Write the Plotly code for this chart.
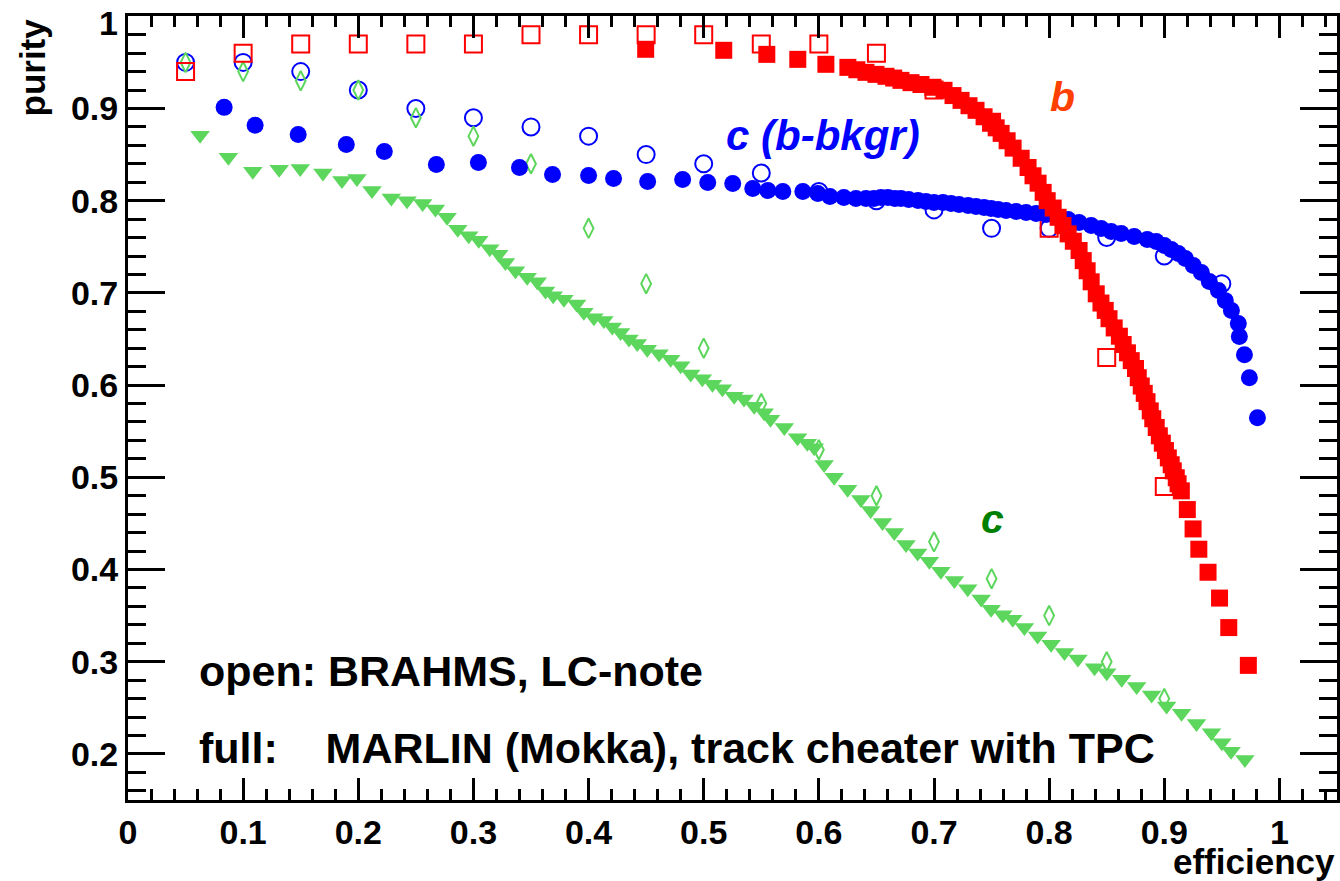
import plotly.graph_objects as go

# ---------------- data ----------------
# BRAHMS (open markers)
x_open = [0.05, 0.10, 0.15, 0.20, 0.25, 0.30, 0.35, 0.40, 0.45, 0.50, 0.55, 0.60,
          0.65, 0.70, 0.75, 0.80, 0.85, 0.90]
b_open_y = [0.94, 0.96, 0.97, 0.97, 0.97, 0.97, 0.98, 0.98, 0.98, 0.98, 0.97, 0.97,
            0.96, 0.92, 0.885, 0.77, 0.63, 0.49]
c_open_y = [0.95, 0.94, 0.93, 0.92, 0.89, 0.87, 0.84, 0.77, 0.71, 0.64, 0.58, 0.53,
            0.48, 0.43, 0.39, 0.35, 0.30, 0.26]
cb_open_x = [0.05, 0.10, 0.15, 0.20, 0.25, 0.30, 0.35, 0.40, 0.45, 0.50, 0.55, 0.60,
             0.65, 0.70, 0.75, 0.80, 0.85, 0.90, 0.95]
cb_open_y = [0.95, 0.95, 0.94, 0.92, 0.90, 0.89, 0.88, 0.87, 0.85, 0.84, 0.83, 0.81,
             0.80, 0.79, 0.77, 0.77, 0.76, 0.74, 0.71]

# MARLIN (full markers)
b_full_x = [0.4496, 0.5174, 0.5548, 0.5817, 0.6061, 0.6252, 0.633, 0.6409, 0.6496, 0.6583,
            0.665, 0.6713, 0.680, 0.6887, 0.699, 0.7087, 0.7165, 0.7235, 0.7304, 0.7365,
            0.7435, 0.7496, 0.754, 0.7583, 0.7635, 0.7687, 0.7757, 0.7817, 0.786, 0.7904,
            0.7948, 0.7983, 0.8035, 0.8078, 0.812, 0.8165, 0.821, 0.826, 0.8296, 0.833,
            0.8365, 0.8409, 0.845, 0.8487, 0.852, 0.8565, 0.861, 0.8643, 0.868, 0.8713,
            0.875, 0.8774, 0.880, 0.8826, 0.885, 0.8878, 0.890, 0.893, 0.8957, 0.8983,
            0.901, 0.9035, 0.906, 0.9078, 0.9104, 0.912, 0.9148, 0.920, 0.925, 0.930,
            0.938, 0.948, 0.956, 0.973]
b_full_y = [0.9642, 0.9631, 0.9587, 0.9533, 0.9479, 0.9446, 0.942, 0.9392, 0.937, 0.9349,
            0.933, 0.9305, 0.928, 0.926, 0.923, 0.9197, 0.914, 0.9088, 0.903, 0.898,
            0.891, 0.885, 0.879, 0.873, 0.865, 0.857, 0.846, 0.836, 0.827, 0.819,
            0.809, 0.800, 0.792, 0.782, 0.773, 0.764, 0.756, 0.746, 0.735, 0.724,
            0.712, 0.699, 0.689, 0.681, 0.672, 0.662, 0.653, 0.644, 0.635, 0.6265,
            0.618, 0.608, 0.599, 0.591, 0.582, 0.572, 0.5635, 0.554, 0.545, 0.537,
            0.529, 0.521, 0.5136, 0.507, 0.4995, 0.493, 0.4853, 0.465, 0.444, 0.422,
            0.397, 0.369, 0.337, 0.296]

cb_full_x = [0.0835, 0.1104, 0.1478, 0.1896, 0.2226, 0.2678, 0.3043, 0.340, 0.3687, 0.400,
             0.4217, 0.4513, 0.4817, 0.5035, 0.5252, 0.5426, 0.5557, 0.5687, 0.5861, 0.5991,
             0.6096, 0.6217, 0.6322, 0.6409, 0.6478, 0.6539, 0.660, 0.666, 0.6713, 0.678,
             0.6861, 0.693, 0.700, 0.7078, 0.7148, 0.7217, 0.7296, 0.7365, 0.7435, 0.7496,
             0.7557, 0.7626, 0.7713, 0.780, 0.7887, 0.7974, 0.8061, 0.8165, 0.826, 0.8365,
             0.8452, 0.8539, 0.8626, 0.8739, 0.8852, 0.893, 0.900, 0.9061, 0.9122, 0.9183,
             0.9252, 0.9322, 0.9391, 0.947, 0.953, 0.9583, 0.9643, 0.9652, 0.9696, 0.9739,
             0.9809]
cb_full_y = [0.9012, 0.8817, 0.8719, 0.8610, 0.8534, 0.8393, 0.8415, 0.836, 0.8284, 0.8274,
             0.8241, 0.8208, 0.823, 0.8198, 0.8187, 0.8132, 0.811, 0.810, 0.810, 0.8078,
             0.8046, 0.8035, 0.8024, 0.8024, 0.8024, 0.8035, 0.8035, 0.8024, 0.8024, 0.8013,
             0.8002, 0.7991, 0.798, 0.798, 0.797, 0.7959, 0.7948, 0.7937, 0.7926, 0.7915,
             0.7904, 0.7894, 0.7883, 0.7872, 0.7861, 0.785, 0.7828, 0.7796, 0.7763, 0.773,
             0.7698, 0.7665, 0.7644, 0.7611, 0.7579, 0.7557, 0.7514, 0.747, 0.7427, 0.7372,
             0.7296, 0.722, 0.7123, 0.7025, 0.6916, 0.6808, 0.6667, 0.6526, 0.633, 0.608,
             0.5646]

c_full_x = [0.0626, 0.0872, 0.1084, 0.1313, 0.1496, 0.1693, 0.1858, 0.1988, 0.2119, 0.2287,
            0.2423, 0.2559, 0.2670, 0.2771, 0.2864, 0.2959, 0.3046, 0.3142, 0.322, 0.3278,
            0.3365, 0.3467, 0.3554, 0.3626, 0.3693, 0.3786, 0.3896, 0.3959, 0.4046, 0.4133,
            0.4206, 0.4278, 0.4351, 0.4423, 0.451, 0.4612, 0.4713, 0.480, 0.4887, 0.4988,
            0.5076, 0.5162, 0.5264, 0.535, 0.5438, 0.5525, 0.558, 0.570, 0.5815, 0.590,
            0.596, 0.6046, 0.6133, 0.625, 0.6365, 0.645, 0.6553, 0.6655, 0.6757, 0.6858,
            0.696, 0.706, 0.7177, 0.7293, 0.741, 0.7496, 0.7597, 0.7684, 0.7785, 0.790,
            0.8017, 0.8133, 0.825, 0.8394, 0.850, 0.863, 0.876, 0.889, 0.902, 0.915,
            0.928, 0.941, 0.950, 0.958, 0.970]
c_full_y = [0.871, 0.847, 0.832, 0.834, 0.835, 0.830, 0.822, 0.824, 0.811, 0.803,
            0.800, 0.797, 0.791, 0.782, 0.769, 0.762, 0.757, 0.748, 0.742, 0.733,
            0.724, 0.717, 0.712, 0.702, 0.697, 0.693, 0.688, 0.679, 0.673, 0.670,
            0.663, 0.657, 0.650, 0.645, 0.639, 0.634, 0.628, 0.621, 0.612, 0.607,
            0.601, 0.596, 0.588, 0.585, 0.577, 0.570, 0.563, 0.554, 0.543, 0.537,
            0.532, 0.514, 0.500, 0.487, 0.476, 0.464, 0.451, 0.440, 0.427, 0.418,
            0.409, 0.398, 0.388, 0.379, 0.368, 0.357, 0.351, 0.346, 0.337, 0.328,
            0.319, 0.310, 0.303, 0.2935, 0.288, 0.281, 0.273, 0.264, 0.252, 0.244,
            0.233, 0.223, 0.212, 0.203, 0.194]

x_ticks = [0, 0.1, 0.2, 0.3, 0.4, 0.5, 0.6, 0.7, 0.8, 0.9, 1.0]
x_ticklabels = ["0", "0.1", "0.2", "0.3", "0.4", "0.5", "0.6", "0.7", "0.8", "0.9", "1"]
y_ticks = [0.2, 0.3, 0.4, 0.5, 0.6, 0.7, 0.8, 0.9, 1.0]
# top label ("1") is drawn as a separate text so that it sits inside the page, as in the original
y_ticklabels = ["0.2", "0.3", "0.4", "0.5", "0.6", "0.7", "0.8", "0.9", ""]
y_top_label = "1"

# ---------------- styling ----------------
RED = "#ff0000"
BLUE = "#0000ff"
GREEN = "#5cd65c"
FONT = "Liberation Sans"

fig = go.Figure()

fig.add_trace(go.Scatter(x=cb_open_x, y=cb_open_y, mode="markers",
                         marker=dict(symbol="circle-open", size=17, color=BLUE,
                                     line=dict(width=2, color=BLUE))))
fig.add_trace(go.Scatter(x=x_open, y=c_open_y, mode="markers",
                         marker=dict(symbol="diamond-tall-open", size=14, color=GREEN,
                                     line=dict(width=2, color=GREEN))))
fig.add_trace(go.Scatter(x=x_open, y=b_open_y, mode="markers",
                         marker=dict(symbol="square-open", size=17, color=RED,
                                     line=dict(width=2, color=RED))))
fig.add_trace(go.Scatter(x=c_full_x, y=c_full_y, mode="markers",
                         marker=dict(symbol="triangle-down", size=17,
                                     color=GREEN, line=dict(width=0))))
fig.add_trace(go.Scatter(x=cb_full_x, y=cb_full_y, mode="markers",
                         marker=dict(symbol="circle", size=17, color=BLUE, line=dict(width=0))))
fig.add_trace(go.Scatter(x=b_full_x, y=b_full_y, mode="markers",
                         marker=dict(symbol="square", size=17, color=RED, line=dict(width=0))))

axis_common = dict(showline=True, linewidth=3, linecolor="black", mirror="ticks",
                   ticks="inside", tickwidth=3, tickcolor="black", showgrid=False,
                   zeroline=False, ticklabeloverflow="allow", automargin=False,
                   tickfont=dict(family=FONT, size=34, color="black", weight="bold"))

fig.update_xaxes(range=[0, 1.05], tickvals=x_ticks, ticktext=x_ticklabels, ticklen=22,
                 minor=dict(dtick=0.02, tick0=0, ticklen=11, tickwidth=3, tickcolor="black",
                            ticks="inside", showgrid=False),
                 **axis_common)
fig.update_yaxes(range=[0.15, 1.0003], tickvals=y_ticks, ticktext=y_ticklabels, ticklen=37,
                 minor=dict(dtick=0.02, tick0=0, ticklen=18, tickwidth=3, tickcolor="black",
                            ticks="inside", showgrid=False),
                 **axis_common)

def bold(size, color="black", italic=False):
    d = dict(family=FONT, size=size, color=color, weight="bold")
    if italic:
        d["style"] = "italic"
    return d

annotations = [
    dict(text=y_top_label, x=-0.0066, y=0.991, xref="paper", yref="paper",
         xanchor="right", yanchor="middle", showarrow=False, font=bold(34)),
    dict(text="b", x=0.812, y=0.912, xref="x", yref="y", showarrow=False,
         font=bold(41, "#ff4000", True)),
    dict(text="c (b-bkgr)", x=0.6035, y=0.871, xref="x", yref="y", showarrow=False,
         font=bold(42, BLUE, True)),
    dict(text="c", x=0.751, y=0.455, xref="x", yref="y", showarrow=False,
         font=bold(41, "#008000", True)),
    dict(text="open: BRAHMS, LC-note", x=0.06, y=0.29, xref="x", yref="y",
         xanchor="left", yanchor="middle", showarrow=False, font=bold(43)),
    dict(text="full:\u00a0\u00a0\u00a0\u00a0MARLIN (Mokka), track cheater with TPC",
         x=0.06, y=0.206, xref="x", yref="y",
         xanchor="left", yanchor="middle", showarrow=False, font=bold(43)),
    dict(text="purity", x=-0.079, y=1.0, xref="paper", yref="paper", textangle=-90,
         xanchor="center", yanchor="top", showarrow=False, font=bold(35)),
    dict(text="efficiency", x=1.0, y=-0.079, xref="paper", yref="paper",
         xanchor="right", yanchor="middle", showarrow=False, font=bold(35)),
]

fig.update_layout(width=1340, height=881, margin=dict(l=128, r=3, t=16, b=81),
                  plot_bgcolor="white", paper_bgcolor="white", showlegend=False,
                  annotations=annotations)

fig.write_html("out.html")
